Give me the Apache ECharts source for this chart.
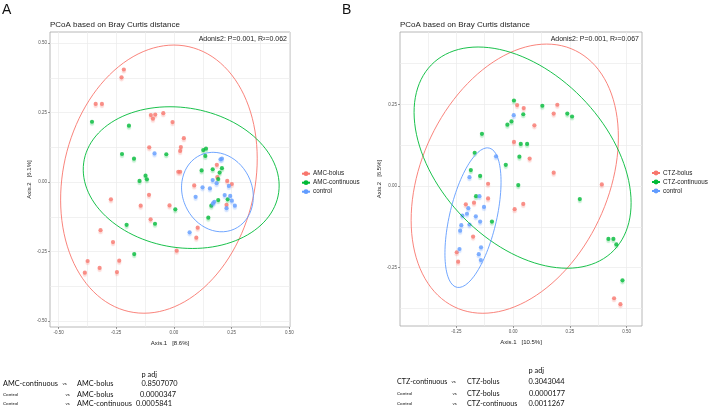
<!DOCTYPE html>
<html>
<head>
<meta charset="utf-8">
<script src="https://cdn.jsdelivr.net/npm/echarts@6/dist/echarts.min.js"></script>
<style>
  html, body { margin: 0; padding: 0; background: #fff; }
  #chart { width: 708px; height: 408px; }
</style>
</head>
<body>
<div id="chart"></div>
<script>
// ---- panel A (AMC) points, [Axis.1, Axis.2] ----
const amcBolus = [
  [-0.217, 0.405], [-0.227, 0.377], [-0.339, 0.281], [-0.312, 0.281], [-0.100, 0.241],
  [-0.081, 0.243], [-0.091, 0.228], [-0.046, 0.248], [-0.006, 0.216], [0.043, 0.158],
  [0.030, 0.126], [0.027, 0.112], [-0.107, 0.125], [0.019, 0.037], [0.027, 0.037],
  [0.088, -0.012], [0.231, 0.004], [0.251, -0.007], [0.188, 0.018], [0.186, 0.062],
  [-0.273, -0.062], [-0.108, -0.046], [-0.144, -0.085], [-0.019, -0.084], [-0.101, -0.134],
  [-0.318, -0.173], [-0.264, -0.216], [0.103, -0.164], [0.097, -0.200], [0.012, -0.247],
  [-0.374, -0.284], [-0.237, -0.283], [-0.322, -0.309], [-0.386, -0.326], [-0.247, -0.324],
  [0.228, -0.082]
];
const amcContinuous = [
  [-0.355, 0.217], [-0.195, 0.203], [-0.225, 0.101], [-0.173, 0.084], [-0.033, 0.100],
  [0.127, 0.115], [0.139, 0.120], [0.136, 0.094], [0.120, 0.042], [0.168, 0.046],
  [0.208, 0.050], [0.198, 0.034], [0.192, 0.011], [-0.123, 0.023], [-0.117, 0.010],
  [-0.149, 0.004], [0.233, -0.062], [0.192, -0.065], [0.162, -0.085], [0.149, -0.128],
  [0.006, -0.098], [-0.082, -0.150], [-0.205, -0.154], [-0.172, -0.259]
];
const amcControl = [
  [-0.084, 0.103], [0.202, 0.082], [0.208, 0.084], [0.168, 0.007], [0.185, -0.004],
  [0.124, -0.019], [0.156, -0.023], [0.238, -0.014], [0.094, -0.053], [0.175, -0.071],
  [0.220, -0.047], [0.244, -0.050], [0.251, -0.067], [0.169, -0.077], [0.264, -0.085],
  [0.228, -0.094], [0.068, -0.181]
];

// ---- panel B (CTZ) points ----
const ctzBolus = [
  [0.018, 0.248], [0.047, 0.239], [0.195, 0.249], [0.179, 0.222], [0.094, 0.186],
  [0.004, 0.135], [0.073, 0.084], [0.179, 0.041], [-0.110, 0.007], [0.391, 0.005],
  [-0.110, -0.038], [-0.172, -0.051], [-0.208, -0.056], [0.007, -0.071], [0.045, -0.055],
  [-0.176, -0.155], [-0.248, -0.203], [-0.242, -0.232], [0.445, -0.344], [0.473, -0.362]
];
const ctzContinuous = [
  [0.004, 0.262], [0.045, 0.220], [0.129, 0.246], [0.239, 0.222], [0.260, 0.213],
  [-0.007, 0.198], [-0.025, 0.188], [-0.137, 0.160], [0.034, 0.129], [0.062, 0.129],
  [0.028, 0.090], [-0.169, 0.102], [-0.032, 0.065], [-0.186, 0.049], [-0.145, 0.031],
  [0.023, 0.003], [-0.163, -0.031], [0.294, -0.040], [-0.093, -0.109], [0.420, -0.162],
  [0.442, -0.162], [0.455, -0.179], [0.482, -0.289]
];
const ctzControl = [
  [0.003, 0.217], [-0.075, 0.091], [-0.192, 0.027], [-0.148, -0.031], [-0.128, -0.064],
  [-0.197, -0.068], [-0.223, -0.091], [-0.203, -0.085], [-0.164, -0.093], [-0.145, -0.109],
  [-0.192, -0.118], [-0.228, -0.120], [-0.233, -0.137], [-0.236, -0.193], [-0.141, -0.188],
  [-0.151, -0.209], [-0.142, -0.227]
];

// ellipses: [cx, cy, ax, ay, bx, by]  -> x = cx + ax cos t + bx sin t
const ellipseAmcBolus = [-0.065, 0.0105, 0.065, 0.4825, 0.421, 0];
const ellipseAmcContinuous = [0.0315, 0.016, -0.0485, 0.255, 0.4217, 0];
const ellipseAmcControl = [0.1885, -0.036, -0.0185, 0.143, 0.1544, 0];
const ellipseCtzBolus = [0.0075, 0.0225, 0.1405, 0.4125, 0.4343, 0];
const ellipseCtzContinuous = [0.042, 0.087, -0.196, 0.339, 0.436, 0];
const ellipseCtzControl = [-0.1765, -0.097, 0.0635, 0.214, 0.106, 0];

// ticks and grid lines
const ticksAx = [-0.5, -0.25, 0, 0.25, 0.5];
const ticksAy = [-0.5, -0.25, 0, 0.25, 0.5];
const gridAx = [-0.5, -0.375, -0.25, -0.125, 0, 0.125, 0.25, 0.375, 0.5];
const gridAy = [-0.5, -0.375, -0.25, -0.125, 0, 0.125, 0.25, 0.375, 0.5];
const ticksBx = [-0.25, 0, 0.25, 0.5];
const ticksBy = [-0.25, 0, 0.25];
const gridBx = [-0.375, -0.25, -0.125, 0, 0.125, 0.25, 0.375, 0.5];
const gridBy = [-0.375, -0.25, -0.125, 0, 0.125, 0.25, 0.375];

const namesA = ['AMC-bolus', 'AMC-continuous', 'control'];
const namesB = ['CTZ-bolus', 'CTZ-continuous', 'control'];

// pairwise table
const pairsA = [['AMC-continuous', 'AMC-bolus'], ['Control', 'AMC-bolus'], ['Control', 'AMC-continuous']];
const padjA = ['0.8507070', '0.0000347', '0.0005841'];
const pairsB = [['CTZ-continuous', 'CTZ-bolus'], ['Control', 'CTZ-bolus'], ['Control', 'CTZ-continuous']];
const padjB = ['0.3043044', '0.0000177', '0.0011267'];

const colors = ['#F8766D', '#00BA38', '#619CFF'];
const shadows = ['rgba(248,118,109,0.35)', 'rgba(0,186,56,0.3)', 'rgba(97,156,255,0.35)'];

function ellipse(p) {
  const pts = [];
  for (let i = 0; i <= 120; i++) {
    const t = 2 * Math.PI * i / 120;
    pts.push([p[0] + p[2] * Math.cos(t) + p[4] * Math.sin(t),
              p[1] + p[3] * Math.cos(t) + p[5] * Math.sin(t)]);
  }
  return pts;
}

const FONT = '"Liberation Sans", Arial, sans-serif';

// visible axis: ticks, labels, title
function mainAxis(gi, min, max, ticks, name, gap, rotate) {
  return {
    type: 'value', gridIndex: gi, min: min, max: max,
    name: name, nameLocation: 'middle', nameGap: gap, nameRotate: rotate,
    nameTextStyle: { fontSize: 6, color: '#222', fontFamily: FONT },
    axisLine: { show: false, onZero: false },
    axisTick: { show: true, customValues: ticks, length: 2, lineStyle: { color: '#555', width: 0.6 } },
    axisLabel: { customValues: ticks, fontSize: 4.5, color: '#555', margin: 3, fontFamily: FONT,
      formatter: v => v.toFixed(2) },
    splitLine: { show: false }
  };
}
// hidden axis used only for the major + minor grid lines
function gridAxis(gi, min, max, lines) {
  return {
    type: 'value', gridIndex: gi, min: min, max: max,
    axisLine: { show: false, onZero: false },
    axisTick: { show: false, customValues: lines },
    axisLabel: { show: false },
    splitLine: { show: true, lineStyle: { color: '#ebebeb', width: 0.7 } }
  };
}

function groupSeries(gi, names, pointSets, ellipses) {
  const out = [];
  names.forEach((n, i) => {
    out.push({
      name: n, type: 'line', xAxisIndex: gi, yAxisIndex: gi,
      data: ellipse(ellipses[i]), symbol: 'circle', showSymbol: false, smooth: false,
      color: colors[i], lineStyle: { width: 0.9, color: colors[i] }, silent: true, z: 3
    });
    out.push({
      name: n, type: 'scatter', xAxisIndex: gi, yAxisIndex: gi,
      data: pointSets[i], symbolSize: 4.2,
      itemStyle: { color: colors[i], shadowColor: shadows[i], shadowOffsetY: 2, shadowBlur: 1 },
      z: 2
    });
  });
  return out;
}

function tableGraphics(pairs, padj, pos) {
  const g = [];
  const txt = (x, y, s, size) => ({
    type: 'text', x: x, y: y,
    style: { text: s, fontSize: size, fontFamily: 'Lato, "Open Sans", sans-serif', fill: '#111', verticalAlign: 'middle' }
  });
  g.push(txt(pos.pX[0], pos.headY, 'p adj', 7.4));
  pairs.forEach((p, i) => {
    const y = pos.rowY[i];
    g.push(txt(pos.c1, y, p[0], p[0] === 'Control' ? 4.6 : pos.size));
    g.push(txt(pos.vs[i], y, 'vs', 4.5));
    g.push(txt(pos.c2, y, p[1], pos.size));
    g.push(txt(pos.pX[i], y, padj[i], 7.4));
  });
  return g;
}

const legendBase = {
  orient: 'vertical', padding: 0, itemWidth: 8, itemHeight: 6, itemGap: 3, selectedMode: false,
  textStyle: { fontSize: 6.3, color: '#222', fontFamily: FONT, padding: [0, 0, 0, -2] }
};

const chart = echarts.init(document.getElementById('chart'));
const option = {
  animation: false,
  backgroundColor: '#fff',
  textStyle: { fontFamily: FONT },
  title: [
    { text: 'PCoA based on Bray Curtis distance', left: 45, top: 16,
      textStyle: { fontSize: 8, fontWeight: 'normal', color: '#222', fontFamily: FONT } },
    { text: 'PCoA based on Bray Curtis distance', left: 395, top: 16,
      textStyle: { fontSize: 8, fontWeight: 'normal', color: '#222', fontFamily: FONT } }
  ],
  grid: [
    { left: 50, top: 32, width: 240, height: 295, show: true, borderColor: '#a6a6a6', borderWidth: 0.8, backgroundColor: '#fff' },
    { left: 400, top: 32, width: 242, height: 294, show: true, borderColor: '#a6a6a6', borderWidth: 0.8, backgroundColor: '#fff' }
  ],
  xAxis: [
    mainAxis(0, -0.537, 0.503, ticksAx, 'Axis.1   [8.6%]', 8, 0),
    mainAxis(1, -0.498, 0.568, ticksBx, 'Axis.1   [10.5%]', 8, 0),
    gridAxis(0, -0.537, 0.503, gridAx),
    gridAxis(1, -0.498, 0.568, gridBx)
  ],
  yAxis: [
    mainAxis(0, -0.5216, 0.54, ticksAy, 'Axis.2   [6.1%]', 18, 90),
    mainAxis(1, -0.429, 0.472, ticksBy, 'Axis.2   [6.5%]', 18, 90),
    gridAxis(0, -0.5216, 0.54, gridAy),
    gridAxis(1, -0.429, 0.472, gridBy)
  ],
  legend: [
    Object.assign({}, legendBase, { data: namesA, left: 301, top: 170.7 }),
    Object.assign({}, legendBase, { data: namesB, left: 651, top: 170 })
  ],
  series: [
    ...groupSeries(0, namesA, [amcBolus, amcContinuous, amcControl],
      [ellipseAmcBolus, ellipseAmcContinuous, ellipseAmcControl]),
    ...groupSeries(1, namesB, [ctzBolus, ctzContinuous, ctzControl],
      [ellipseCtzBolus, ellipseCtzContinuous, ellipseCtzControl])
  ],
  graphic: [
    { type: 'text', x: 2, y: 3, style: { text: 'A', fontSize: 14, fontFamily: FONT, fill: '#111' } },
    { type: 'text', x: 342, y: 3, style: { text: 'B', fontSize: 14, fontFamily: FONT, fill: '#111' } },
    { type: 'text', x: 287, y: 39, style: { text: 'Adonis2: P=0.001, R²=0.062', fontSize: 7, fontFamily: FONT,
      fill: '#222', align: 'right', verticalAlign: 'middle' }, z: 10 },
    { type: 'text', x: 639, y: 39, style: { text: 'Adonis2: P=0.001, R²=0.067', fontSize: 7, fontFamily: FONT,
      fill: '#222', align: 'right', verticalAlign: 'middle' }, z: 10 },
    ...tableGraphics(pairsA, padjA, { size: 7.3, headY: 375, rowY: [383.5, 394.5, 404], c1: 3, vs: [62.5, 65.5, 65.5], c2: 77, pX: [141.5, 140, 136] }),
    ...tableGraphics(pairsB, padjB, { size: 7.1, headY: 370.5, rowY: [381.5, 394, 404], c1: 397, vs: [451.5, 452.5, 452.5], c2: 467, pX: [528.5, 529, 528.5] })
  ]
};
chart.setOption(option);
</script>
</body>
</html>
